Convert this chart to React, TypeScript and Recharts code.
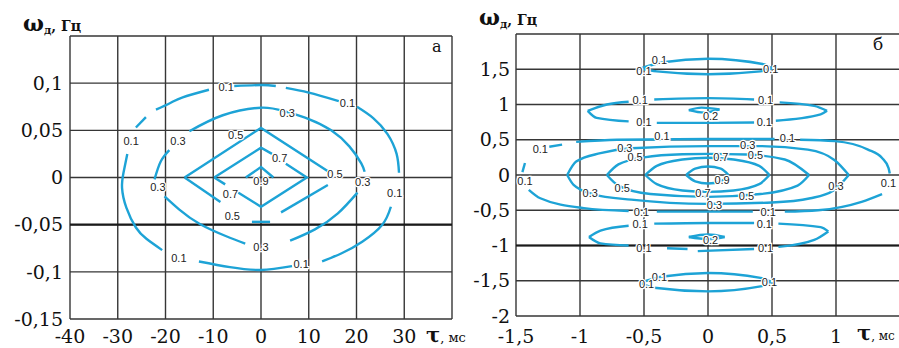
import React from "react";
import { ComposedChart, Line, Scatter, XAxis, YAxis, CartesianGrid, ReferenceLine } from "recharts";

type Pt = [number, number];
type Tag = [number, number, string];

// ---------- panel а: τ (ms) vs ω (Hz) ----------
const tauTicksA = [-40, -30, -20, -10, 0, 10, 20, 30, 40];
const omegaTicksA = [-0.15, -0.1, -0.05, 0, 0.05, 0.1, 0.15];

// diamond-shaped inner levels (straight segments)
const a09: Pt[][] = [[[-3.2, 0], [0, 0.011], [2.6, 0]]];
const a07: Pt[][] = [
  [[-9.8, 0], [0, 0.0316], [2.3, 0.025]],
  [[5.2, 0.0145], [9.6, 0], [0, -0.031], [-4.8, -0.016]],
  [[-7.5, -0.0073], [-9.8, 0]],
];
const a05: Pt[][] = [
  [[-16, 0], [0, 0.0526], [14.5, 0.005]],
  [[14, -0.008], [4.2, -0.037]],
  [[-1.9, -0.047], [1.9, -0.047]],
  [[-16, 0], [-8.5, -0.026]],
];
// rounder outer levels
const a03: Pt[][] = [
  [[-15, 0.049], [-8, 0.066], [0, 0.074], [5, 0.07], [10, 0.062], [14.7, 0.05], [18.5, 0.033], [21, 0.015], [21.7, 0.006]],
  [[20.2, -0.016], [16.1, -0.038], [11.3, -0.055], [6.1, -0.067]],
  [[-3.3, -0.07], [-7.4, -0.062], [-12.9, -0.049], [-17.1, -0.034], [-20.2, -0.02]],
  [[-22.3, -0.002], [-21, 0.017], [-19.2, 0.029]],
];
const a01: Pt[][] = [
  [[-5.6, 0.097], [0, 0.098], [3.1, 0.097]],
  [[5.2, 0.095], [10, 0.09], [16.3, 0.081]],
  [[20.1, 0.075], [23.5, 0.063], [26.5, 0.046], [28.4, 0.025], [28.9, 0.005]],
  [[27.2, -0.031], [25.4, -0.05], [21.2, -0.068], [17, -0.08], [12.8, -0.089]],
  [[6.5, -0.094], [0, -0.098], [-6.5, -0.095], [-13, -0.089]],
  [[-20.7, -0.077], [-24, -0.065], [-26.2, -0.053], [-28.2, -0.032], [-29.1, -0.011], [-28.8, 0.005], [-28, 0.025]],
  [[-26.2, 0.053], [-24.1, 0.064]],
  [[-22, 0.072], [-19, 0.079], [-16.4, 0.085], [-10.9, 0.093]],
];
const tagsA: Tag[] = [
  [0, -0.004, "0.9"],
  [3.9, 0.021, "0.7"], [-6.4, -0.017, "0.7"],
  [-5.3, 0.045, "0.5"], [15.5, 0.004, "0.5"], [-6, -0.041, "0.5"],
  [5.5, 0.068, "0.3"], [-17.4, 0.039, "0.3"], [-21.6, -0.01, "0.3"], [21.3, -0.005, "0.3"], [0, -0.074, "0.3"],
  [-7.3, 0.096, "0.1"], [18.1, 0.079, "0.1"], [-27.2, 0.039, "0.1"], [28, -0.016, "0.1"], [-17.2, -0.085, "0.1"], [8.4, -0.092, "0.1"],
];

// ---------- panel б ----------
const tauTicksB = [-1.5, -1, -0.5, 0, 0.5, 1, 1.5];
const omegaTicksB = [-2, -1.5, -1, -0.5, 0, 0.5, 1, 1.5, 2];

const b09: Pt[][] = [
  [[-0.17, 0], [-0.1, 0.09], [0, 0.12], [0.1, 0.09], [0.16, 0]],
  [[-0.17, 0], [-0.1, -0.09], [0, -0.12], [0.1, -0.09], [0.16, 0]],
];
const b07: Pt[][] = [
  [[-0.49, 0], [-0.4, 0.13], [-0.2, 0.22], [0, 0.245], [0.2, 0.22], [0.4, 0.13], [0.48, 0]],
  [[-0.49, 0], [-0.4, -0.13], [-0.2, -0.22], [0, -0.24], [0.2, -0.22], [0.4, -0.13], [0.48, 0]],
];
const b05: Pt[][] = [
  [[-0.79, 0], [-0.7, 0.15], [-0.5, 0.25], [-0.2, 0.295], [0, 0.3], [0.3, 0.29], [0.6, 0.22], [0.79, 0]],
  [[-0.79, 0], [-0.7, -0.15], [-0.45, -0.27], [0, -0.31], [0.41, -0.27], [0.7, -0.15], [0.79, 0]],
];
const b03: Pt[][] = [
  [[-1.1, 0], [-1.03, 0.19], [-0.84, 0.31], [-0.6, 0.38], [0, 0.41], [0.4, 0.41], [0.78, 0.36], [0.99, 0.21], [1.1, 0]],
  [[-1.1, 0], [-1.05, -0.14], [-0.9, -0.27], [-0.6, -0.35], [0, -0.41], [0.5, -0.39], [0.8, -0.33], [0.98, -0.22], [1.1, 0]],
];
const b02: Pt[][] = [
  [[-0.15, 0.92], [-0.05, 0.955], [0.09, 0.93]],
  [[-0.15, 0.92], [-0.03, 0.885], [0.09, 0.93]],
  [[-0.15, -0.88], [0, -0.845], [0.13, -0.88]],
  [[-0.15, -0.88], [0, -0.91], [0.13, -0.88]],
];
const b01: Pt[][] = [
  // outer ring
  [[-1.45, 0.04], [-1.43, 0.17]],
  [[-1.24, 0.4], [-1.14, 0.43]],
  [[-1.03, 0.47], [-0.71, 0.5], [0, 0.51], [0.52, 0.51]],
  [[0.72, 0.5], [0.99, 0.48], [1.25, 0.36], [1.36, 0.24], [1.41, 0.1], [1.42, 0.02]],
  [[0.6, -0.52], [0.86, -0.5], [1.2, -0.38], [1.36, -0.27]],
  [[-0.4, -0.52], [0.35, -0.52]],
  [[-1.4, -0.21], [-1.31, -0.33], [-0.97, -0.47], [-0.62, -0.51]],
  // upper side lobe
  [[-0.94, 0.91], [-0.79, 1.0], [-0.62, 1.04]],
  [[-0.42, 1.07], [0, 1.09], [0.36, 1.07]],
  [[0.56, 1.03], [0.83, 0.98], [0.93, 0.91]],
  [[-0.94, 0.91], [-0.87, 0.81], [-0.62, 0.76]],
  [[-0.4, 0.74], [0, 0.74], [0.36, 0.745]],
  [[0.53, 0.77], [0.88, 0.86], [0.93, 0.91]],
  // lower side lobe
  [[-0.93, -0.88], [-0.84, -0.79], [-0.62, -0.72]],
  [[-0.42, -0.69], [0, -0.68], [0.36, -0.68]],
  [[0.55, -0.69], [0.88, -0.74], [0.94, -0.8]],
  [[-0.93, -0.88], [-0.84, -0.97], [-0.62, -1.0]],
  [[-0.32, -1.04], [-0.16, -1.05]],
  [[-0.08, -1.08], [0.36, -1.05]],
  [[0.55, -1.02], [0.83, -0.92], [0.94, -0.8]],
  // top and bottom lenses
  [[-0.53, 1.51], [-0.35, 1.6], [0, 1.65], [0.44, 1.57], [0.5, 1.51]],
  [[-0.53, 1.51], [-0.4, 1.47], [0, 1.43], [0.41, 1.47], [0.5, 1.51]],
  [[-0.53, -1.53], [-0.35, -1.44], [0, -1.39], [0.41, -1.46], [0.5, -1.52]],
  [[-0.53, -1.53], [-0.42, -1.6], [0, -1.65], [0.41, -1.58], [0.5, -1.52]],
];
const tagsB: Tag[] = [
  [0.11, -0.07, "0.9"],
  [0.1, 0.26, "0.7"], [-0.04, -0.26, "0.7"],
  [-0.57, 0.26, "0.5"], [0.37, 0.29, "0.5"], [-0.67, -0.19, "0.5"], [0.3, -0.3, "0.5"],
  [-0.65, 0.38, "0.3"], [0.31, 0.43, "0.3"], [-0.92, -0.26, "0.3"], [1.0, -0.15, "0.3"], [0.05, -0.42, "0.3"],
  [0.02, 0.83, "0.2"], [0.02, -0.92, "0.2"],
  [-0.38, 1.63, "0.1"], [-0.5, 1.48, "0.1"], [0.49, 1.51, "0.1"],
  [-0.53, 1.06, "0.1"], [0.45, 1.06, "0.1"], [-0.5, 0.75, "0.1"], [0.44, 0.75, "0.1"],
  [-1.31, 0.37, "0.1"], [-0.36, 0.55, "0.1"], [0.62, 0.52, "0.1"],
  [-1.43, -0.08, "0.1"], [1.41, -0.12, "0.1"], [0.47, -0.52, "0.1"], [-0.52, -0.52, "0.1"],
  [-0.53, -0.69, "0.1"], [0.44, -0.69, "0.1"], [-0.5, -1.04, "0.1"], [0.45, -1.04, "0.1"],
  [-0.38, -1.44, "0.1"], [-0.48, -1.54, "0.1"], [0.48, -1.52, "0.1"],
];

const CONTOUR = "#1da3d6";
const GRID = "#363636";
const SERIF = "'DejaVu Serif', serif";
const tickStyle = { fill: "#111", fontSize: 19, fontFamily: SERIF };

const comma = (hide: number) => (v: number) => (v === hide ? "" : String(v).replace(".", ","));

const rows = (s: Pt[]) => s.map(([x, y]) => ({ x, y }));
const tagRows = (t: Tag[]) => t.map(([x, y, t]) => ({ x, y, t }));

function lines(segs: Pt[][], type: "linear" | "natural" | "monotone", key: string) {
  return segs.map((s, i) => (
    <Line
      key={`${key}-${i}`}
      data={rows(s)}
      dataKey="y"
      type={type}
      stroke={CONTOUR}
      strokeWidth={2.4}
      dot={false}
      activeDot={false}
      legendType="none"
      isAnimationActive={false}
    />
  ));
}

const renderTag = (p: any) => (
  <text
    x={p.cx}
    y={p.cy}
    textAnchor="middle"
    dominantBaseline="central"
    fontSize={11}
    fontFamily="'Liberation Sans', Arial, sans-serif"
    fill="#222"
    stroke="#fff"
    strokeWidth={2.5}
    paintOrder="stroke"
  >
    {p.payload.t}
  </text>
);

export default function App() {
  return (
    <div style={{ position: "absolute", left: 0, top: 0, width: 899, height: 348, overflow: "hidden", background: "#fff" }}>
      <div style={{ position: "absolute", left: 0, top: 0 }}>
        <ComposedChart width={460} height={348} margin={{ top: 36, right: 8, bottom: 0, left: 0 }}>
          <CartesianGrid stroke={GRID} strokeWidth={1.4} />
          <XAxis
            dataKey="x"
            type="number"
            domain={[-40, 40]}
            ticks={tauTicksA}
            interval={0}
            tickFormatter={comma(40)}
            axisLine={false}
            tickLine={false}
            tickSize={0}
            tickMargin={11}
            height={29}
            tick={tickStyle}
            allowDataOverflow
          />
          <YAxis
            type="number"
            domain={[-0.15, 0.15]}
            ticks={omegaTicksA}
            interval={0}
            tickFormatter={comma(0.15)}
            axisLine={false}
            tickLine={false}
            tickSize={0}
            tickMargin={7}
            width={70}
            tick={tickStyle}
            allowDataOverflow
          />
          <ReferenceLine y={-0.05} stroke="#1a1a1a" strokeWidth={2.2} />
          {lines(a09, "linear", "a09")}
          {lines(a07, "linear", "a07")}
          {lines(a05, "linear", "a05")}
          {lines(a03, "natural", "a03")}
          {lines(a01, "natural", "a01")}
          <Scatter data={tagRows(tagsA)} dataKey="y" shape={renderTag} isAnimationActive={false} />
        </ComposedChart>
      </div>

      <div style={{ position: "absolute", left: 446, top: 0 }}>
        <ComposedChart width={460} height={348} margin={{ top: 34, right: 6, bottom: 0, left: 0 }}>
          <CartesianGrid stroke={GRID} strokeWidth={1.4} />
          <XAxis
            dataKey="x"
            type="number"
            domain={[-1.5, 1.5]}
            ticks={tauTicksB}
            interval={0}
            tickFormatter={comma(1.5)}
            axisLine={false}
            tickLine={false}
            tickSize={0}
            tickMargin={14}
            height={32}
            tick={tickStyle}
            allowDataOverflow
          />
          <YAxis
            type="number"
            domain={[-2, 2]}
            ticks={omegaTicksB}
            interval={0}
            tickFormatter={comma(2)}
            axisLine={false}
            tickLine={false}
            tickSize={0}
            tickMargin={6}
            width={70}
            tick={tickStyle}
            allowDataOverflow
          />
          <ReferenceLine y={-1} stroke="#1a1a1a" strokeWidth={2.2} />
          {lines(b09, "monotone", "b09")}
          {lines(b07, "monotone", "b07")}
          {lines(b05, "monotone", "b05")}
          {lines(b03, "monotone", "b03")}
          {lines(b02, "monotone", "b02")}
          {lines(b01, "monotone", "b01")}
          <Scatter data={tagRows(tagsB)} dataKey="y" shape={renderTag} isAnimationActive={false} />
        </ComposedChart>
      </div>

      <svg width={899} height={348} style={{ position: "absolute", left: 0, top: 0, pointerEvents: "none" }}>
        <g fontFamily={SERIF} fill="#111">
          <text x={23} y={31} fontWeight="bold">
            <tspan fontSize={22}>ω</tspan>
            <tspan fontSize={11} dy={3}>д</tspan>
            <tspan fontSize={14} dy={-3}>, Гц</tspan>
          </text>
          <text x={479} y={25} fontWeight="bold">
            <tspan fontSize={22}>ω</tspan>
            <tspan fontSize={11} dy={3}>д</tspan>
            <tspan fontSize={14} dy={-3}>, Гц</tspan>
          </text>
          <text x={426} y={342}>
            <tspan fontSize={21} fontWeight="bold">τ</tspan>
            <tspan fontSize={13}>, мс</tspan>
          </text>
          <text x={857} y={340}>
            <tspan fontSize={21} fontWeight="bold">τ</tspan>
            <tspan fontSize={12}>, мс</tspan>
          </text>
          <text x={432} y={52} fontSize={16}>а</text>
          <text x={873} y={50} fontSize={17}>б</text>
        </g>
      </svg>
    </div>
  );
}
